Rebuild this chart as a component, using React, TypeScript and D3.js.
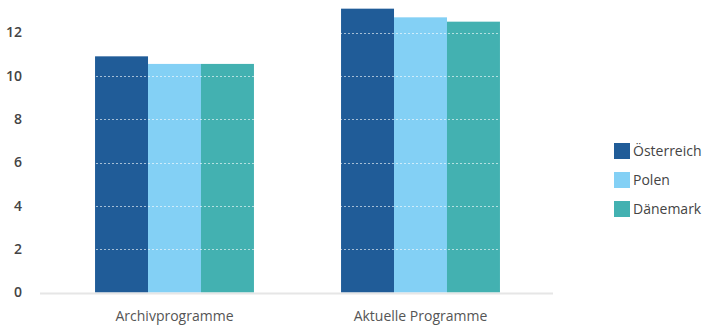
import React from "react";
import * as d3 from "d3";

const categories = ["Archivprogramme", "Aktuelle Programme"];
const seriesNames = ["Österreich", "Polen", "Dänemark"];
const seriesColors = ["#205c98", "#83d0f5", "#43b1b1"];
const oesterreich = [10.9, 13.1];
const polen = [10.55, 12.7];
const daenemark = [10.55, 12.5];
const yTicks = [0, 2, 4, 6, 8, 10, 12];

const W = 708;
const H = 328;
const FONT = "'Open Sans', Lato, sans-serif";

export default function App() {
  const values = [oesterreich, polen, daenemark];

  const x0 = d3
    .scaleBand<string>()
    .domain(categories)
    .range([51.5, 543.5])
    .paddingInner(0.354)
    .paddingOuter(0.177);

  const x1 = d3
    .scaleBand<string>()
    .domain(seriesNames)
    .range([0, x0.bandwidth()]);

  const y = d3.scaleLinear().domain([0, 12]).range([292.5, 32.5]);

  return (
    <svg
      width={W}
      height={H}
      style={{ position: "absolute", left: 0, top: 0, background: "#fff" }}
      fontFamily={FONT}
    >
      {/* bars */}
      {categories.map((cat, ci) => (
        <g key={cat} transform={`translate(${x0(cat)},0)`}>
          {seriesNames.map((s, si) => (
            <rect
              key={s}
              x={x1(s)}
              y={y(values[si][ci])}
              width={x1.bandwidth()}
              height={y(0) - y(values[si][ci])}
              fill={seriesColors[si]}
            />
          ))}
        </g>
      ))}

      {/* dotted grid lines above the bars */}
      {yTicks
        .filter((t) => t > 0)
        .map((t) => (
          <line
            key={t}
            x1={40}
            x2={553}
            y1={Math.round(y(t)) + 0.5}
            y2={Math.round(y(t)) + 0.5}
            stroke="#ffffff"
            strokeOpacity={0.6}
            strokeDasharray="2,2"
          />
        ))}

      {/* baseline */}
      <line x1={40} x2={553} y1={y(0) + 1} y2={y(0) + 1} stroke="#e6e6e6" strokeWidth={2} />

      {/* y tick labels */}
      {yTicks.map((t) => (
        <text
          key={t}
          x={22}
          y={y(t)}
          dy="0.35em"
          textAnchor="end"
          fontSize={14}
          fontWeight={600}
          fill="#444"
        >
          {t}
        </text>
      ))}

      {/* category labels */}
      {categories.map((cat) => (
        <text
          key={cat}
          x={(x0(cat) as number) + x0.bandwidth() / 2}
          y={321}
          textAnchor="middle"
          fontSize={14}
          fill="#555"
        >
          {cat}
        </text>
      ))}

      {/* legend */}
      {seriesNames.map((s, i) => (
        <g key={s} transform={`translate(614,${143 + i * 29})`}>
          <rect width={16} height={16} fill={seriesColors[i]} />
          <text x={19} y={8} dy="0.35em" fontSize={14} fill="#444">
            {s}
          </text>
        </g>
      ))}
    </svg>
  );
}
